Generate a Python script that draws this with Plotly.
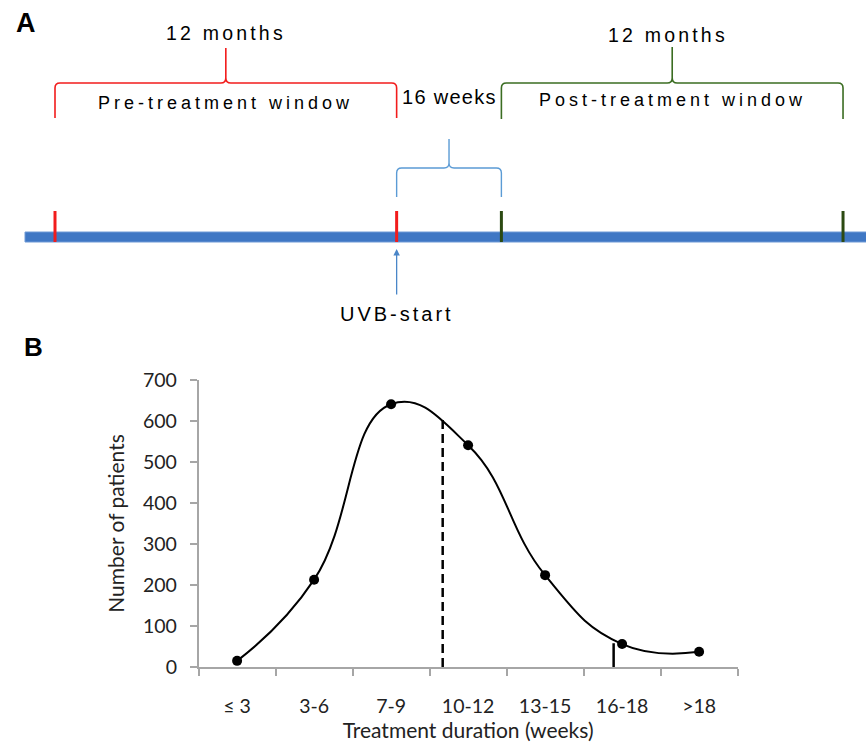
import plotly.graph_objects as go

# ---------------- Panel B data ----------------
categories = ["≤ 3", "3-6", "7-9", "10-12", "13-15", "16-18", ">18"]
patients = [15, 213, 641, 541, 224, 56, 37]
# vertical reference markers (position in category-index units, height in patients)
ref_pos = [2.67, 4.89]
ref_top = [614, 58]
ref_dash = ["9px,5px", "solid"]
y_ticks = [0, 100, 200, 300, 400, 500, 600, 700]

# ---------------- Panel A data (months) ----------------
window_months = 12
treatment_weeks = 16
days_per_month = 30.44
uvb_start = 0.0
pre_start = uvb_start - window_months
treat_end = uvb_start + treatment_weeks * 7 / days_per_month
post_end = treat_end + window_months

# ---------------- styling / layout constants ----------------
W, H = 866, 742
PX_PER_MONTH = 28.47
X2_LEFT = pre_start - 55 / PX_PER_MONTH
X2_RIGHT = X2_LEFT + W / PX_PER_MONTH

RED = "#f21c1c"
GREEN = "#3b6d22"
DKGREEN = "#2c4a12"
LBLUE = "#5b9bd5"
BAR = "#3f77c4"

TXT_FONT = "Liberation Sans, Arial, sans-serif"
B_FONT = "Lato, Open Sans, sans-serif"

fig = go.Figure()

# ---------- Panel B: curve ----------
fig.add_trace(go.Scatter(
    x=categories, y=patients, mode="lines+markers",
    line=dict(color="black", width=2, shape="spline", smoothing=1.3),
    marker=dict(color="black", size=10),
    showlegend=False, hoverinfo="skip", xaxis="x", yaxis="y"))

# invisible anchor trace for panel A axes
fig.add_trace(go.Scatter(x=[uvb_start], y=[400], mode="markers",
                         marker=dict(opacity=0), showlegend=False,
                         hoverinfo="skip", xaxis="x2", yaxis="y2"))

shapes = []
for xp, top, dash in zip(ref_pos, ref_top, ref_dash):
    shapes.append(dict(type="line", xref="x", yref="y", x0=xp, x1=xp, y0=0, y1=top,
                       line=dict(color="black", width=2.5, dash=dash), layer="above"))

# ---------- Panel A: diagram ----------
def brace(x0, x1, yb, yh, ytop, color, width=1.6):
    rx = 5 / PX_PER_MONTH
    ry = 5
    xc = (x0 + x1) / 2
    p = (f"M {x0},{yb} L {x0},{yh+ry} Q {x0},{yh} {x0+rx},{yh} "
         f"L {xc-rx},{yh} Q {xc},{yh} {xc},{yh-ry} L {xc},{ytop} "
         f"M {xc},{yh-ry} Q {xc},{yh} {xc+rx},{yh} "
         f"L {x1-rx},{yh} Q {x1},{yh} {x1},{yh+ry} L {x1},{yb}")
    return dict(type="path", xref="x2", yref="y2", path=p,
                line=dict(color=color, width=width))

shapes.append(brace(pre_start, uvb_start, 118, 83, 48, RED))
shapes.append(brace(treat_end, post_end, 119, 83, 47, GREEN))
shapes.append(brace(uvb_start, treat_end, 197, 168, 139, LBLUE, 1.4))

# timeline bar
shapes.append(dict(type="rect", xref="x2", yref="y2",
                   x0=X2_LEFT + 25 / PX_PER_MONTH, x1=X2_RIGHT + 1, y0=232, y1=242,
                   fillcolor=BAR, line=dict(color="#6f9ad6", width=1)))
# event ticks
for xv, col in [(pre_start, RED), (uvb_start, RED), (treat_end, DKGREEN), (post_end, DKGREEN)]:
    shapes.append(dict(type="line", xref="x2", yref="y2", x0=xv, x1=xv, y0=211, y1=242,
                       line=dict(color=col, width=3)))

def spaced(t, ls):
    return f'<span style="letter-spacing:{ls}px">{t}</span>'

annotations = [
    dict(text="<b>A</b>", xref="paper", yref="paper", x=26 / W, y=1 - 23 / H,
         xanchor="center", yanchor="middle",
         showarrow=False, font=dict(family=TXT_FONT, size=27, color="black")),
    dict(text="<b>B</b>", xref="paper", yref="paper", x=33 / W, y=1 - 347 / H,
         xanchor="center", yanchor="middle",
         showarrow=False, font=dict(family=TXT_FONT, size=26, color="black")),
    dict(text=spaced("12 months", 3.2), xref="x2", yref="y2",
         x=(pre_start + uvb_start) / 2, y=33, showarrow=False,
         font=dict(family=TXT_FONT, size=19.5, color="black")),
    dict(text=spaced("Pre-treatment window", 4), xref="x2", yref="y2",
         x=(pre_start + uvb_start) / 2, y=103, showarrow=False,
         font=dict(family=TXT_FONT, size=18, color="black")),
    dict(text=spaced("16 weeks", 1.3), xref="x2", yref="y2",
         x=(uvb_start + treat_end) / 2, y=97, showarrow=False,
         font=dict(family=TXT_FONT, size=20, color="black")),
    dict(text=spaced("12 months", 3.2), xref="x2", yref="y2",
         x=(treat_end + post_end) / 2 - 0.15, y=35, showarrow=False,
         font=dict(family=TXT_FONT, size=19.5, color="black")),
    dict(text=spaced("Post-treatment window", 4), xref="x2", yref="y2",
         x=(treat_end + post_end) / 2, y=100, showarrow=False,
         font=dict(family=TXT_FONT, size=18, color="black")),
    dict(text=spaced("UVB-start", 3), xref="x2", yref="y2",
         x=uvb_start, y=314, showarrow=False,
         font=dict(family=TXT_FONT, size=20, color="black")),
    dict(text="", xref="x2", yref="y2", x=uvb_start, y=249,
         axref="x2", ayref="y2", ax=uvb_start, ay=296,
         showarrow=True, arrowhead=2, arrowsize=1, arrowwidth=1.3, arrowcolor="#4a86c8"),
]

AX_GRAY = "#a6a6a6"
fig.update_layout(
    width=W, height=H, margin=dict(l=0, r=0, t=0, b=0, autoexpand=False),
    paper_bgcolor="white", plot_bgcolor="rgba(0,0,0,0)",
    showlegend=False,
    shapes=shapes, annotations=annotations,
    xaxis=dict(domain=[198.6 / W, 737.6 / W], anchor="y", type="category",
               range=[-0.5, 6.5], tickson="boundaries", ticks="outside", ticklen=7,
               tickcolor=AX_GRAY, tickwidth=1.5, showline=True, linecolor=AX_GRAY,
               linewidth=1.5, showgrid=False, zeroline=False, automargin=False,
               tickfont=dict(family=B_FONT, size=19.5, color="#222"),
               ticklabelstandoff=21,
               title=dict(text="Treatment duration (weeks)", standoff=19,
                          font=dict(family=B_FONT, size=21, color="#222"))),
    yaxis=dict(domain=[(H - 667) / H, (H - 380) / H], anchor="x",
               range=[0, 700], tickvals=y_ticks, ticks="outside", ticklen=7,
               tickcolor=AX_GRAY, tickwidth=1.5, showline=True, linecolor=AX_GRAY,
               linewidth=1.5, showgrid=False, zeroline=False, automargin=False,
               tickfont=dict(family=B_FONT, size=19.5, color="#222"),
               ticklabelstandoff=9,
               title=dict(text="Number of patients", standoff=13,
                          font=dict(family=B_FONT, size=21, color="#222"))),
    xaxis2=dict(domain=[0, 1], anchor="y2", range=[X2_LEFT, X2_RIGHT], visible=False,
                automargin=False),
    yaxis2=dict(domain=[0, 1], anchor="x2", range=[H, 0], visible=False,
                automargin=False),
)

fig.write_html("out.html")
